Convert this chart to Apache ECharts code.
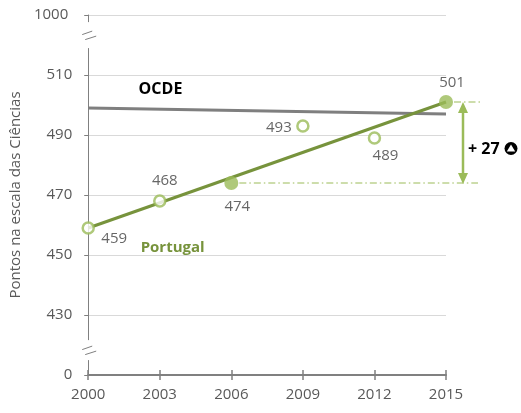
<!DOCTYPE html>
<html><head><meta charset="utf-8">
<script src="https://cdn.jsdelivr.net/npm/echarts@6/dist/echarts.min.js"></script>
<style>html,body{margin:0;padding:0;background:#fff}#c{width:521px;height:413px}</style>
</head><body><div id="c"></div>
<script>
// ---- data ----
const years = ['2000', '2003', '2006', '2009', '2012', '2015'];
const portugal = [459, 468, 474, 493, 489, 501];
const portugalFilled = [false, false, true, false, false, true];
const portugalTrend = [459, null, null, null, null, 501];
const ocde = [499, null, null, null, null, 497];
// axis display positions 410 and 530 stand for the broken-axis ticks 0 and 1000
const yBreakLabels = { 410: '0', 530: '1000' };
const changeText = '+ 27';
const seriesNames = ['OCDE', 'Portugal'];
const yTitle = 'Pontos na escala das Ciências';

// ---- styles ----
const FONT = 'Open Sans';
const GREEN = '#9BBB59', OLIVE = '#77933C', GREY = '#808080', TXT = '#595959';
const labelOffsets = [[26, 11], [5, -20], [6, 24], [-24, 2], [11, 18], [6, -19]];

const chart = echarts.init(document.getElementById('c'), null, { renderer: 'canvas' });

const option = {
  animation: false,
  textStyle: { fontFamily: FONT },
  grid: { left: 88, right: 75, top: 15, bottom: 38 },
  xAxis: [{
    type: 'category', data: years, boundaryGap: false,
    axisLine: { lineStyle: { color: GREY, width: 2 } },
    axisTick: { show: true, length: 5, lineStyle: { color: GREY, width: 1.5 } },
    axisLabel: { color: TXT, fontSize: 15, margin: 12, fontFamily: FONT },
    splitLine: { show: false }
  }, {
    type: 'category', data: years, boundaryGap: false, position: 'bottom',
    axisLine: { show: false },
    axisTick: { show: true, inside: true, length: 5, lineStyle: { color: GREY, width: 1.5 } },
    axisLabel: { show: false }, splitLine: { show: false }
  }],
  yAxis: {
    type: 'value', min: 410, max: 530, interval: 20,
    name: yTitle, nameLocation: 'middle', nameGap: 58,
    nameTextStyle: { color: TXT, fontSize: 15, fontFamily: FONT },
    axisLine: { show: true, lineStyle: { color: GREY, width: 1 } },
    axisTick: { show: true, length: 4, lineStyle: { color: GREY } },
    axisLabel: {
      color: TXT, fontSize: 15, margin: 16, fontFamily: FONT,
      formatter: v => v === 530 ? '{p|' + yBreakLabels[v] + '}' : (yBreakLabels[v] !== undefined ? yBreakLabels[v] : String(v)),
      rich: { p: { color: TXT, fontSize: 15, fontFamily: FONT, padding: [0, 4, 0, 0] } }
    },
    splitLine: { lineStyle: { color: '#d9d9d9', width: 1 } }
  },
  series: [{
    name: seriesNames[0], type: 'line', data: ocde, connectNulls: true, symbol: 'none', z: 2,
    lineStyle: { color: '#7f7f7f', width: 3 }
  }, {
    name: seriesNames[1] + ' trend', type: 'line', data: portugalTrend, connectNulls: true, symbol: 'none', z: 3,
    lineStyle: { color: OLIVE, width: 3 }
  }, {
    name: seriesNames[1], type: 'scatter', z: 5,
    data: portugal.map((v, i) => ({
      value: v,
      symbolSize: portugalFilled[i] ? 14 : 11,
      itemStyle: portugalFilled[i] ? { color: GREEN, borderWidth: 0 } : { color: '#fff', borderColor: GREEN, borderWidth: 2.5 },
      label: { offset: labelOffsets[i] }
    })),
    label: { show: true, position: 'inside', color: '#404040', fontSize: 15, fontFamily: FONT }
  }]
};
chart.setOption(option);

// ---- annotations computed from the axes ----
const px = i => chart.convertToPixel({ xAxisIndex: 0 }, i);
const py = v => chart.convertToPixel({ yAxisIndex: 0 }, v);
const lerp = (a, b, t) => a + (b - a) * t;
const ax = px(0);
const last = portugal.length - 1;
const yEnd = py(portugal[last]);
const y2006 = py(portugal[2]);
const xEnd = px(last);
const g = [];

function brk(yc, half) {
  g.push({ type: 'rect', z: 100, shape: { x: ax - 6, y: yc - half, width: 12, height: 2 * half }, style: { fill: '#fff' } });
  g.push({ type: 'line', z: 101, shape: { x1: ax - 6, y1: yc - 0.5, x2: ax + 4, y2: yc - 4 }, style: { stroke: GREY, lineWidth: 1 } });
  g.push({ type: 'line', z: 101, shape: { x1: ax - 3, y1: yc + 4.5, x2: ax + 8, y2: yc + 1 }, style: { stroke: GREY, lineWidth: 1 } });
}
brk(py(523.3), 13);
brk(py(418.3), 10);

// series name labels
g.push({ type: 'text', z: 100, x: lerp(px(1), px(2), 0.01), y: py(505.3),
  style: { text: seriesNames[0], font: 'bold 16px ' + FONT, fill: '#000', align: 'center', verticalAlign: 'middle' } });
g.push({ type: 'text', z: 100, x: lerp(px(1), px(2), 0.18), y: py(452.3),
  style: { text: seriesNames[1], font: 'bold 15px ' + FONT, fill: OLIVE, align: 'center', verticalAlign: 'middle' } });

// dash-dot reference lines
const dd = { stroke: GREEN, lineWidth: 1, lineDash: [7, 3, 1.5, 3] };
g.push({ type: 'line', z: 4, shape: { x1: px(2) + 8, y1: y2006, x2: xEnd + 32, y2: y2006 }, style: dd });
g.push({ type: 'line', z: 4, shape: { x1: xEnd + 8, y1: yEnd, x2: xEnd + 34, y2: yEnd }, style: dd });

// double arrow
const axx = xEnd + 17;
g.push({ type: 'line', z: 100, shape: { x1: axx, y1: yEnd + 8, x2: axx, y2: y2006 - 8 }, style: { stroke: GREEN, lineWidth: 2.5 } });
g.push({ type: 'polygon', z: 100, shape: { points: [[axx, yEnd], [axx - 5, yEnd + 11], [axx + 5, yEnd + 11]] }, style: { fill: GREEN } });
g.push({ type: 'polygon', z: 100, shape: { points: [[axx, y2006 + 1], [axx - 5, y2006 - 10], [axx + 5, y2006 - 10]] }, style: { fill: GREEN } });

// change text and icon
const ym = (yEnd + y2006) / 2 + 7;
g.push({ type: 'text', z: 100, x: xEnd + 22, y: ym,
  style: { text: changeText, font: 'bold 16px ' + FONT, fill: '#000', align: 'left', verticalAlign: 'middle' } });
const cx = xEnd + 65, cy = ym - 1;
g.push({ type: 'circle', z: 100, shape: { cx: cx, cy: cy, r: 6.5 }, style: { fill: '#000' } });
g.push({ type: 'polygon', z: 101, shape: { points: [[cx, cy - 4], [cx - 4.2, cy + 3], [cx + 4.2, cy + 3]] }, style: { fill: '#fff' } });

chart.setOption({ graphic: { elements: g } });
</script>
</body></html>
